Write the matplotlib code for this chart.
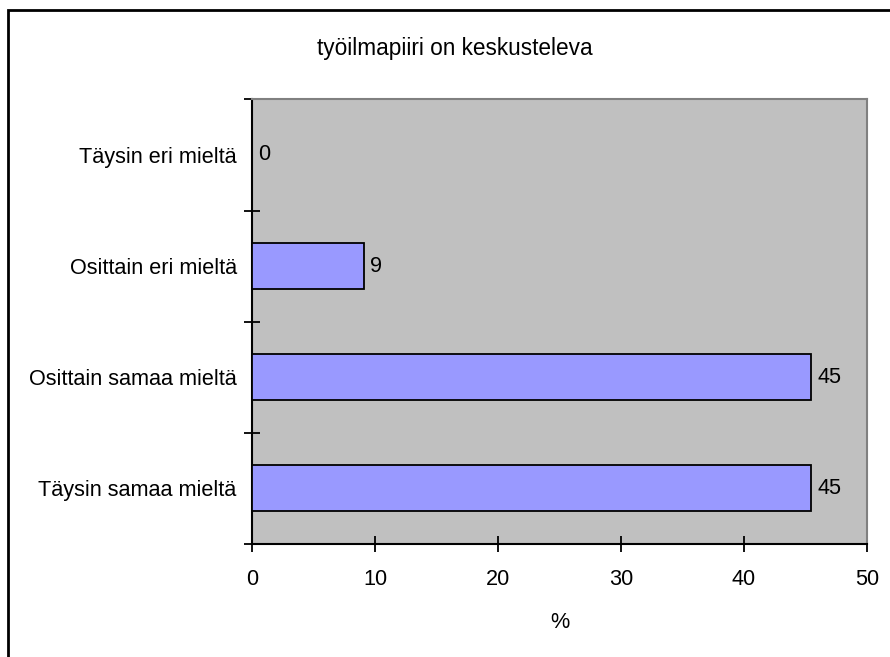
import matplotlib.pyplot as plt
from matplotlib.patches import Rectangle

plt.rcParams['font.family'] = ['Liberation Sans', 'DejaVu Sans']

# vastausten jakauma (%), 11 vastaajaa
vastaukset = ['Täysin samaa mieltä', 'Osittain samaa mieltä',
              'Osittain eri mieltä', 'Täysin eri mieltä']
prosentit = [45.45, 45.45, 9.09, 0.0]
xtikit = [0, 10, 20, 30, 40, 50]

fs = 15.6

fig = plt.figure(figsize=(8.9, 6.57), dpi=100)
ax = fig.add_axes([0.2831, 0.1725, 0.6911, 0.6761])

# kehys kuvan ympärille (oikea ja alareuna jäävät kuvan ulkopuolelle)
fig.patches.append(Rectangle((8 / 890, -0.05), 1.2, 1 - 10 / 657 + 0.05,
                             transform=fig.transFigure, fill=False,
                             edgecolor='black', linewidth=2, zorder=10))

ax.set_facecolor('#C0C0C0')
y = range(len(vastaukset))
ax.barh(y, prosentit, height=0.41, color='#9999FF', edgecolor='black',
        linewidth=1.3, zorder=3)

for i, v in enumerate(prosentit):
    ax.text(v + 0.5, i, f'{v:.0f}', va='center', ha='left', fontsize=fs)

ax.set_xlim(0, 50)
ax.set_ylim(-0.5, len(vastaukset) - 0.5)
ax.set_xticks(xtikit)
ax.set_yticks([i - 0.5 for i in range(len(vastaukset) + 1)])
ax.set_yticklabels([])
ax.set_yticks(list(y), minor=True)
ax.set_yticklabels(vastaukset, minor=True, fontsize=fs)
ax.tick_params(axis='y', which='minor', length=0, pad=11)
ax.tick_params(axis='y', which='major', direction='inout', length=12,
               width=1.3)
ax.tick_params(axis='x', direction='inout', length=12, width=1.3,
               labelsize=fs, pad=12)

ax.spines['left'].set_linewidth(1.5)
ax.spines['bottom'].set_linewidth(1.5)
ax.spines['top'].set_color('#808080')
ax.spines['right'].set_color('#808080')
ax.spines['top'].set_linewidth(1.5)
ax.spines['right'].set_linewidth(1.5)

ax.set_xlabel('%', fontsize=fs, labelpad=16)
fig.text(455 / 890, 1 - 48 / 657, 'työilmapiiri on keskusteleva',
         ha='center', va='center', fontsize=16.3)

fig.savefig('out.png', dpi=100)
